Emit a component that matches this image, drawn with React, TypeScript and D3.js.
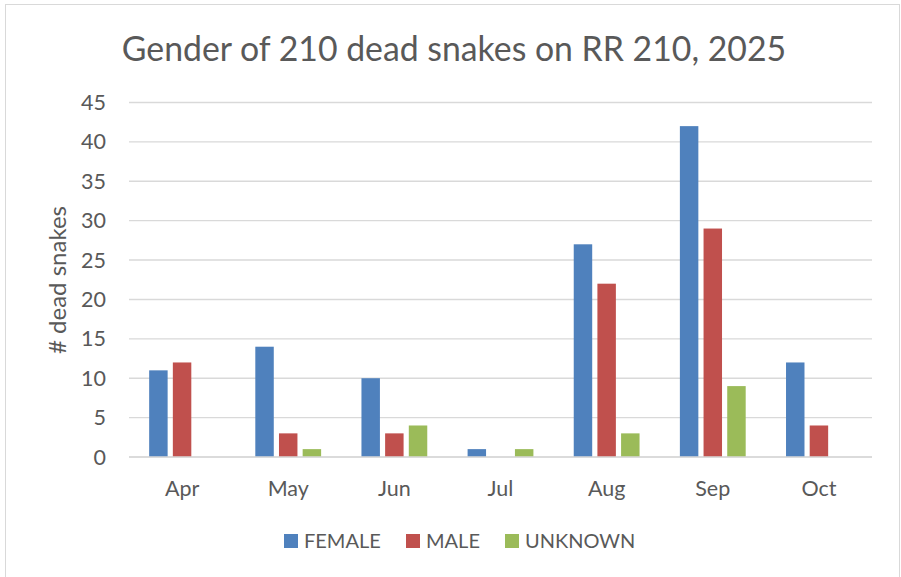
import React from "react";
import * as d3 from "d3";

const months = ["Apr", "May", "Jun", "Jul", "Aug", "Sep", "Oct"];
const seriesNames = ["FEMALE", "MALE", "UNKNOWN"];
const female = [11, 14, 10, 1, 27, 42, 12];
const male = [12, 3, 3, 0, 22, 29, 4];
const unknown = [0, 1, 4, 1, 3, 9, 0];
const yTicks = [0, 5, 10, 15, 20, 25, 30, 35, 40, 45];
const colors = ["#4f81bd", "#c0504d", "#9bbb59"];

const W = 901;
const H = 577;
const FONT = "Lato, 'Noto Sans', sans-serif";
const TEXT = "#595959";

export default function App() {
  const values = [female, male, unknown];
  const plot = { left: 129, right: 872, top: 102.5, bottom: 457 };

  const x = d3.scaleBand<string>().domain(months).range([plot.left, plot.right]).padding(0);
  const bw = x.bandwidth();
  const xs = d3
    .scaleBand<string>()
    .domain(seriesNames)
    .range([bw * 0.19, bw * 0.81])
    .paddingInner(0.22)
    .paddingOuter(0);
  const y = d3.scaleLinear().domain([0, 45]).range([plot.bottom, plot.top]);

  const legendItems = [
    { name: "FEMALE", sx: 284, tx: 304 },
    { name: "MALE", sx: 406, tx: 426 },
    { name: "UNKNOWN", sx: 505, tx: 525 },
  ];

  return (
    <svg
      width={W}
      height={H}
      style={{ position: "absolute", left: 0, top: 0, display: "block", background: "#fff" }}
      fontFamily={FONT}
    >
      <rect x={0} y={0} width={W} height={H} fill="#fff" />
      <rect x={5.5} y={4.5} width={894} height={580} fill="none" stroke="#d9d9d9" strokeWidth={1} />
      <text x={454} y={61} textAnchor="middle" fontSize={33.8} fill={TEXT}>
        Gender of 210 dead snakes on RR 210, 2025
      </text>

      {yTicks.map((t) => (
        <g key={t}>
          <line x1={plot.left} x2={plot.right} y1={y(t)} y2={y(t)} stroke="#d9d9d9" strokeWidth={1.4} />
          <text x={106} y={y(t)} dy="0.35em" textAnchor="end" fontSize={21.5} fill={TEXT}>
            {t}
          </text>
        </g>
      ))}

      {values.map((vals, si) =>
        vals.map((v, i) => {
          const m = months[i];
          if (v <= 0) return null;
          const bx = (x(m) as number) + (xs(seriesNames[si]) as number);
          return (
            <rect
              key={`${si}-${i}`}
              x={bx}
              y={y(v)}
              width={xs.bandwidth()}
              height={y(0) - y(v)}
              fill={colors[si]}
            />
          );
        })
      )}

      <line x1={plot.left} x2={plot.right} y1={y(0)} y2={y(0)} stroke="#d9d9d9" strokeWidth={1.4} />

      {months.map((m) => (
        <text
          key={m}
          x={(x(m) as number) + bw / 2}
          y={496}
          textAnchor="middle"
          fontSize={21.5}
          fill={TEXT}
        >
          {m}
        </text>
      ))}

      <text
        transform={`translate(66,280) rotate(-90)`}
        textAnchor="middle"
        fontSize={24}
        fill={TEXT}
      >
        # dead snakes
      </text>

      {legendItems.map((it, i) => (
        <g key={it.name}>
          <rect x={it.sx} y={534} width={14} height={14} fill={colors[i]} />
          <text x={it.tx} y={548} fontSize={20} fill={TEXT}>
            {it.name}
          </text>
        </g>
      ))}
    </svg>
  );
}
